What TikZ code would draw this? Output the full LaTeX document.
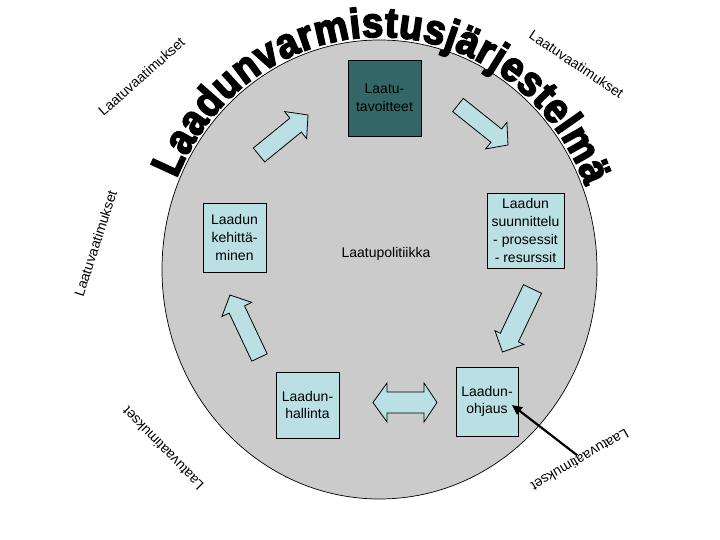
\documentclass[tikz,border=0pt]{standalone}
\usepackage{fontspec}
\setmainfont{Liberation Sans}
\newfontface\titlefont[FakeBold=4,FakeStretch=0.91]{Liberation Sans Bold}
\usetikzlibrary{calc,decorations.text,arrows.meta}
\definecolor{circgray}{RGB}{203,203,203}
\definecolor{boxblue}{RGB}{187,224,227}
\definecolor{darkteal}{RGB}{51,102,102}
\newcommand\blockarrow[5]{%
  \coordinate (#2-b) at ($(#2)!#5!(#1)$);
  \draw[blockarr] ($(#1)!#3!90:(#2)$) -- ($(#2-b)!#3!90:(#2)$) -- ($(#2-b)!#4!90:(#2)$)
    -- (#2) -- ($(#2-b)!#4!-90:(#2)$) -- ($(#2-b)!#3!-90:(#2)$) -- ($(#1)!#3!-90:(#2)$) -- cycle;
}
\begin{document}
\begin{tikzpicture}[x=1pt,y=1pt,
  box/.style={draw=black, line width=0.8pt, fill=boxblue, align=center, inner sep=0pt,
    font=\fontsize{14}{17.7}\selectfont},
  lab/.style={font=\fontsize{14}{16}\selectfont, inner sep=0pt},
  blockarr/.style={draw=black, line width=0.8pt, fill=boxblue, line join=miter}]
\useasboundingbox (0,0) rectangle (720,540);
% big ellipse
\coordinate (C) at (379.5,270.5);
\draw[fill=circgray, line width=0.7pt] (C) ellipse [x radius=217.5, y radius=229.5];
% title along arc
\path[decorate, decoration={text along path,
    text={|\titlefont\fontsize{42}{42}\selectfont|Laadunvarmistusjärjestelmä},
    text align={fit to path}}]
  ($(C)+(157:220.5 and 232.5)$) arc[start angle=157, end angle=21, x radius=220.5, y radius=232.5];
% boxes
\node[box, fill=darkteal, minimum width=73pt, minimum height=76pt] (tav) at (384.5,442) {Laatu-\\tavoitteet};
\node[box, minimum width=63pt, minimum height=69pt] (keh) at (234.5,302.5) {Laadun\\kehittä-\\minen};
\node[box, minimum width=77pt, minimum height=75pt] (suun) at (525.5,309.5) {Laadun\\suunnittelu\\- prosessit\\- resurssit};
\node[box, minimum width=63pt, minimum height=66pt] (hall) at (307.5,135) {Laadun-\\hallinta};
\node[box, minimum width=62pt, minimum height=69pt] (ohj) at (487,138.5) {Laadun-\\ohjaus};
\node[lab] (pol) at (386,286) {Laatupolitiikka};
% block arrows
\coordinate (a1t) at (259,385);   \coordinate (a1h) at (308,425);
\coordinate (a2t) at (458,435);   \coordinate (a2h) at (508,395);
\coordinate (a3t) at (532.5,251); \coordinate (a3h) at (502.5,188);
\coordinate (a4t) at (259.5,182.5); \coordinate (a4h) at (230,245);
\blockarrow{a1t}{a1h}{9pt}{17.5pt}{16pt}
\blockarrow{a2t}{a2h}{8.5pt}{17pt}{15pt}
\blockarrow{a3t}{a3h}{10pt}{16pt}{16pt}
\blockarrow{a4t}{a4h}{8.5pt}{16.5pt}{16pt}
% double arrow
\begin{scope}[shift={(405,137.5)}]
\draw[blockarr] (-32,0) -- (-18,19.5) -- (-18,10.5) -- (19,10.5) -- (19,19.5) -- (32,0)
  -- (19,-19.5) -- (19,-10.5) -- (-18,-10.5) -- (-18,-19.5) -- cycle;
\end{scope}
% labels
\node[lab, rotate=41.5] (lv1) at (141.5,463.5) {Laatuvaatimukset};
\node[lab, rotate=-33.7] (lv2) at (576.5,476) {Laatuvaatimukset};
\node[lab, rotate=72] (lv3) at (95.5,296.5) {Laatuvaatimukset};
\node[lab, rotate=134] (lv4) at (163,91) {Laatuvaatimukset};
\node[lab, rotate=210] (lv5) at (580,80) {Laatuvaatimukset};
% black arrow
\coordinate (ctip) at ($(ohj.center)+(25,-3.5)$);
\draw[line width=2.2pt, -{Triangle[length=10pt,width=9pt]}] (lv5.south) -- (ctip);
\end{tikzpicture}
\end{document}
